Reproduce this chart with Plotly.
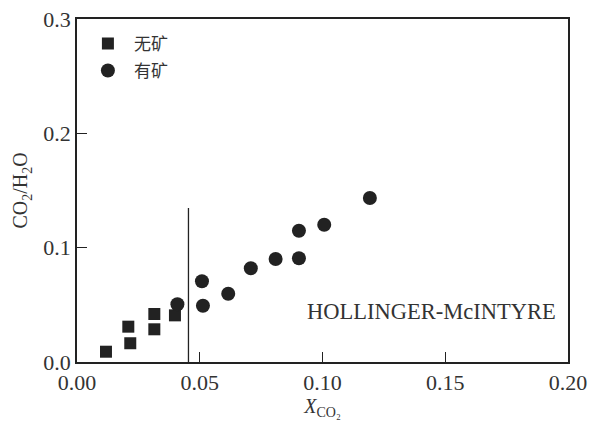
import plotly.graph_objects as go

# Data
no_ore_x = [0.0118, 0.0209, 0.0217, 0.0315, 0.0315, 0.0399]
no_ore_y = [0.0090, 0.0309, 0.0164, 0.0420, 0.0286, 0.0408]

ore_x = [0.0409, 0.0509, 0.0513, 0.0616, 0.0708, 0.0809, 0.0904, 0.0904, 0.1007, 0.1193]
ore_y = [0.0505, 0.0706, 0.0492, 0.0597, 0.0820, 0.0901, 0.0907, 0.1148, 0.1201, 0.1434]

divider_x = [0.0454, 0.0454]
divider_y = [0.0, 0.1347]

series_names = ["无矿", "有矿"]
x_ticks = [0.00, 0.05, 0.10, 0.15, 0.20]
x_tick_labels = ["0.00", "0.05", "0.10", "0.15", "0.20"]
y_ticks = [0.0, 0.1, 0.2, 0.3]
y_tick_labels = ["0.0", "0.1", "0.2", "0.3"]
label_text = "HOLLINGER-McINTYRE"

INK = "#222222"
TXT = "#333333"
SERIF = "Liberation Serif, Times New Roman, serif"
CJK = "Noto Sans CJK SC, sans-serif"

fig = go.Figure()
fig.add_trace(go.Scatter(
    x=no_ore_x, y=no_ore_y, mode="markers", name=series_names[0],
    legendgroup="a",
    marker=dict(symbol="square", size=12, color=INK),
))
fig.add_trace(go.Scatter(
    x=ore_x, y=ore_y, mode="markers", name=series_names[1],
    legendgroup="b",
    marker=dict(symbol="circle", size=14, color=INK),
))
fig.add_trace(go.Scatter(
    x=divider_x, y=divider_y, mode="lines", showlegend=False,
    line=dict(color=INK, width=1.3), hoverinfo="skip",
))

fig.add_annotation(
    x=0.1445, y=0.0445, xref="x", yref="y", text=label_text, showarrow=False,
    font=dict(family=SERIF, size=22.5, color=TXT),
)

axis_common = dict(
    showgrid=False, zeroline=False, showline=True, mirror=True,
    linecolor=INK, linewidth=1.5, ticks="inside", ticklen=10,
    tickcolor=INK, tickwidth=1.3, automargin=False,
    tickfont=dict(family=SERIF, size=22, color=TXT),
)

fig.update_xaxes(
    range=[0, 0.2], tickvals=x_ticks, ticktext=x_tick_labels,
    title=dict(text="<i>X</i><sub>CO₂</sub>", font=dict(family=SERIF, size=20, color=TXT), standoff=5),
    **axis_common,
)
fig.update_yaxes(
    range=[0, 0.3], tickvals=y_ticks, ticktext=y_tick_labels,
    title=dict(text="CO<sub>2</sub>/H<sub>2</sub>O", font=dict(family=SERIF, size=20, color=TXT), standoff=10),
    **axis_common,
)

fig.update_layout(
    width=595, height=421,
    margin=dict(l=77, r=27, t=19, b=59),
    paper_bgcolor="white", plot_bgcolor="white",
    showlegend=True,
    legend=dict(
        x=0.010, y=0.98, xanchor="left", yanchor="top",
        bgcolor="rgba(0,0,0,0)", font=dict(family=CJK, size=17, color=TXT),
        itemwidth=42, tracegroupgap=2,
    ),
)

fig.write_html("out.html", config={"displayModeBar": False},
               post_script="document.body.style.margin='0';")
